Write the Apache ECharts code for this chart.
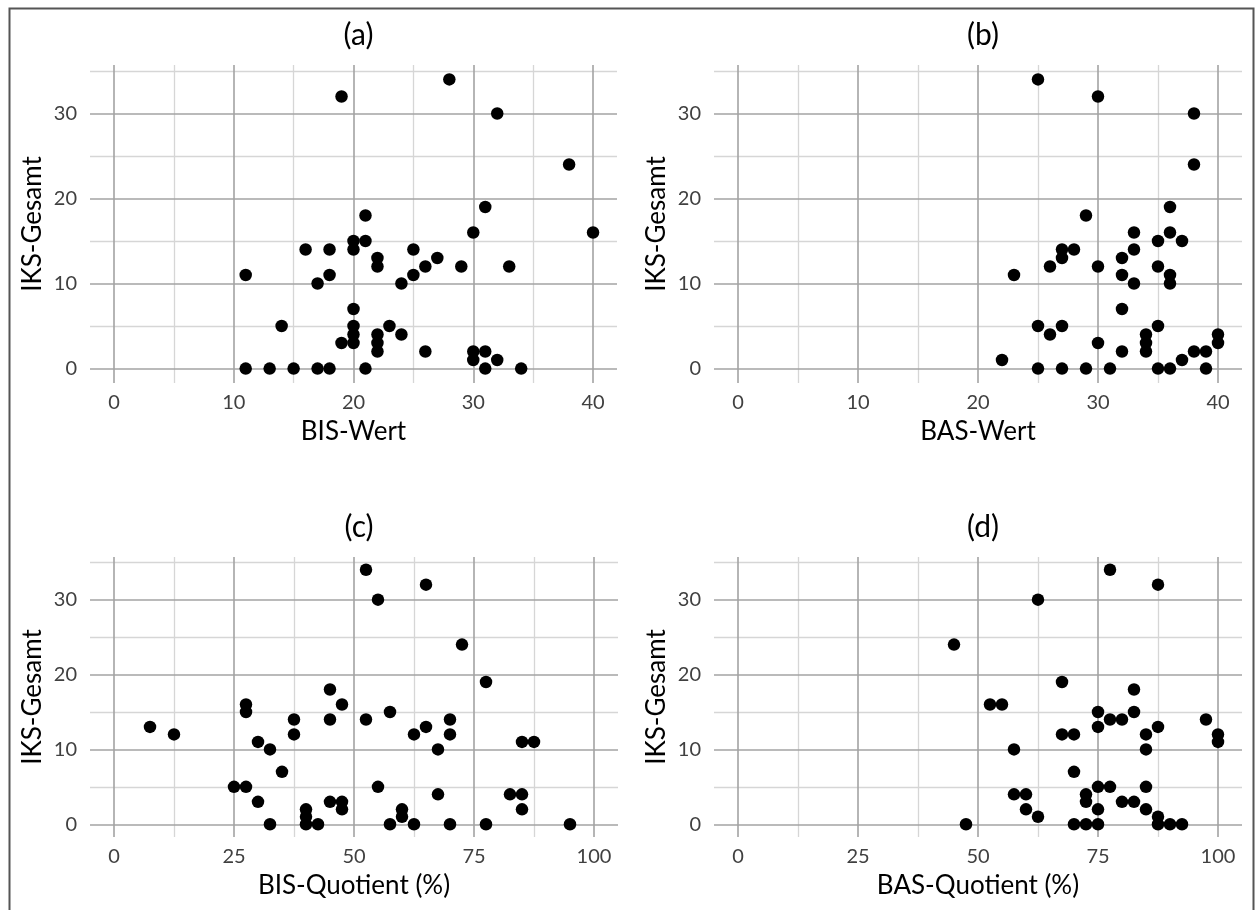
<!DOCTYPE html>
<html><head><meta charset="utf-8">
<script src="https://cdn.jsdelivr.net/npm/echarts@6/dist/echarts.min.js"></script>
<style>html,body{margin:0;padding:0;background:#fff}#c{width:1257px;height:910px}</style>
</head><body><div id="c"></div>
<script>
// Panel (a): BIS-Wert vs IKS-Gesamt
const bisWert = [11,13,15,17,18,21,31,34,30,32,20,19,22,22,26,30,31,20,22,24,14,20,23,20,17,24,11,18,25,22,26,29,33,22,27,16,18,20,25,20,21,30,40,21,31,38,32,19,28];
const iksA    = [0,0,0,0,0,0,0,0,1,1,3,3,3,2,2,2,2,4,4,4,5,5,5,7,10,10,11,11,11,12,12,12,12,13,13,14,14,14,14,15,15,16,16,18,19,24,30,32,34];
// Panel (b): BAS-Wert vs IKS-Gesamt
const basWert = [25,27,29,31,35,36,39,22,37,34,32,38,39,30,34,40,26,34,40,25,27,35,32,36,33,32,36,23,26,30,35,27,32,27,28,33,35,37,33,36,29,36,38,38,30,25];
const iksB    = [0,0,0,0,0,0,0,1,1,2,2,2,2,3,3,3,4,4,4,5,5,5,7,10,10,11,11,11,12,12,12,13,13,14,14,14,15,15,16,16,18,19,24,30,32,34];
// Panel (c): BIS-Quotient vs IKS-Gesamt
const bisQuot = [32.5,40,42.5,57.5,62.5,70,77.5,95,40,60,40,47.5,60,85,30,45,47.5,67.5,82.5,85,25,27.5,55,35,32.5,67.5,30,85,87.5,12.5,37.5,62.5,70,7.5,65,37.5,45,52.5,70,27.5,57.5,27.5,47.5,45,77.5,72.5,55,65,52.5];
const iksC    = [0,0,0,0,0,0,0,0,1,1,2,2,2,2,3,3,3,4,4,4,5,5,5,7,10,10,11,11,11,12,12,12,12,13,13,14,14,14,14,15,15,16,16,18,19,24,30,32,34];
// Panel (d): BAS-Quotient vs IKS-Gesamt
const basQuot = [47.5,70,72.5,75,87.5,90,92.5,62.5,87.5,60,75,85,72.5,80,82.5,57.5,60,72.5,75,77.5,85,70,57.5,85,100,67.5,70,85,100,75,87.5,77.5,80,97.5,75,82.5,52.5,55,82.5,67.5,45,62.5,87.5,77.5];
const iksD    = [0,0,0,0,0,0,0,1,1,2,2,2,3,3,3,4,4,4,5,5,5,7,10,10,11,12,12,12,12,13,13,14,14,14,15,15,16,16,18,19,24,30,32,34];

// Tick labels
const yTicks = [0,10,20,30];
const yMinor = [5,15,25,35];
const wertTicks = [0,10,20,30,40];
const wertMinor = [5,15,25,35];
const quotTicks = [0,25,50,75,100];
const quotMinor = [12.5,37.5,62.5,87.5];

const titles = ['(a)','(b)','(c)','(d)'];
const xNames = ['BIS-Wert','BAS-Wert','BIS-Quotient (%)','BAS-Quotient (%)'];
const yName = 'IKS-Gesamt';

const FONT = 'Lato';
const layout = [
  {left:90, top:65, width:527, height:318, xr:[-2,42], yr:[-1.7,35.7]},
  {left:714, top:65, width:528, height:318, xr:[-2,42], yr:[-1.7,35.7]},
  {left:90, top:557, width:528, height:280, xr:[-5,105], yr:[-1.7,35.7]},
  {left:714, top:557, width:528, height:280, xr:[-5,105], yr:[-1.7,35.7]}
];
const xs = [bisWert, basWert, bisQuot, basQuot];
const ys = [iksA, iksB, iksC, iksD];
const xT = [wertTicks, wertTicks, quotTicks, quotTicks];
const xM = [wertMinor, wertMinor, quotMinor, quotMinor];

const MAJ = {color:'#a3a3a3', width:1.6, type:'solid'};
const MIN = {color:'#d6d6d6', width:1.3, type:'solid'};

const grid = [], xAxis = [], yAxis = [], series = [], title = [];
layout.forEach((L, i) => {
  grid.push({left:L.left, top:L.top, width:L.width, height:L.height, containLabel:false});
  const xt = xT[i];
  xAxis.push({
    type:'value', gridIndex:i, min:L.xr[0], max:L.xr[1],
    axisLine:{show:false}, axisTick:{show:false}, splitLine:{show:false},
    axisLabel:{customValues:xt, margin:10, color:'#404040', fontSize:20, fontFamily:FONT,
      formatter:v => xt.indexOf(v) >= 0 ? String(v) : ''},
    name:xNames[i], nameLocation:'middle', nameGap:36,
    nameTextStyle:{color:'#000', fontSize:26, fontFamily:FONT}
  });
  yAxis.push({
    type:'value', gridIndex:i, min:L.yr[0], max:L.yr[1],
    axisLine:{show:false}, axisTick:{show:false}, splitLine:{show:false},
    axisLabel:{customValues:yTicks, margin:13, color:'#404040', fontSize:20, fontFamily:FONT,
      formatter:v => yTicks.indexOf(v) >= 0 ? String(v) : ''},
    name:yName, nameLocation:'middle', nameGap:44,
    nameTextStyle:{color:'#000', fontSize:26, fontFamily:FONT}
  });
  const lines = [];
  xM[i].forEach(v => lines.push({xAxis:v, lineStyle:MIN}));
  yMinor.forEach(v => lines.push({yAxis:v, lineStyle:MIN}));
  xt.forEach(v => lines.push({xAxis:v, lineStyle:MAJ}));
  yTicks.forEach(v => lines.push({yAxis:v, lineStyle:MAJ}));
  series.push({
    type:'scatter', xAxisIndex:i, yAxisIndex:i, data:[], silent:true, z:1,
    markLine:{silent:true, z:1, symbol:['none','none'], label:{show:false}, animation:false, data:lines}
  });
  series.push({
    type:'scatter', xAxisIndex:i, yAxisIndex:i, z:5, symbol:'circle', symbolSize:12.5,
    itemStyle:{color:'#000', opacity:1},
    data: xs[i].map((x, k) => [x, ys[i][k]])
  });
  title.push({text:titles[i], left:L.left + L.width/2, top:L.top - 50, textAlign:'center',
    textStyle:{color:'#000', fontSize:30, fontWeight:'normal', fontFamily:FONT}});
});

const chart = echarts.init(document.getElementById('c'), null, {renderer:'canvas'});
chart.setOption({
  animation:false, backgroundColor:'#fff',
  title, grid, xAxis, yAxis, series,
  graphic:[{type:'rect', left:7, top:6, shape:{width:1244, height:920},
    style:{fill:'none', stroke:'#555', lineWidth:2}, silent:true}]
});
</script></body></html>
